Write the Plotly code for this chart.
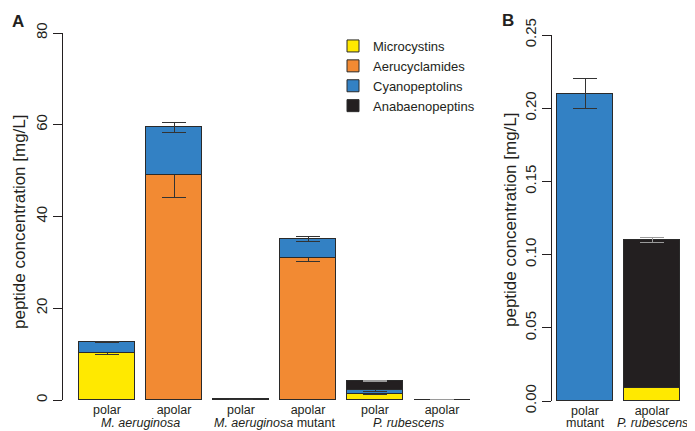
import plotly.graph_objects as go

W, H = 695, 431

# ---------------- data ----------------
series_names = ["Microcystins", "Aerucyclamides", "Cyanopeptolins", "Anabaenopeptins"]
series_colors = ["#FFE900", "#F28A33", "#3381C4", "#231F20"]
err_colors = ["#333333", "#333333", "#333333", "#9a9a9a"]

# Panel A
a_fraction = ["polar", "apolar", "polar", "apolar", "polar", "apolar"]
a_species = ["<i>M. aeruginosa</i>", "<i>M. aeruginosa</i> mutant", "<i>P. rubescens</i>"]
a_microcystins = [10.2, 0, 0, 0, 1.3, 0.009]
a_aerucyclamides = [0, 49.0, 0, 31.0, 0, 0]
a_cyanopeptolins = [2.4, 10.5, 0.21, 4.1, 0.9, 0]
a_anabaenopeptins = [0, 0, 0, 0, 1.9, 0.101]
a_microcystins_err = [0.3, None, None, None, 0.1, None]
a_aerucyclamides_err = [None, 4.8, None, 0.75, None, None]
a_cyanopeptolins_err = [0.15, 1.1, None, 0.5, 0.3, None]
a_anabaenopeptins_err = [None, None, None, None, 0.15, None]
a_yticks = [0, 20, 40, 60, 80]

# Panel B
b_fraction = ["polar", "apolar"]
b_second = ["mutant", "<i>P. rubescens</i>"]
b_microcystins = [0, 0.009]
b_aerucyclamides = [0, 0]
b_cyanopeptolins = [0.21, 0]
b_anabaenopeptins = [0, 0.101]
b_microcystins_err = [None, None]
b_aerucyclamides_err = [None, None]
b_cyanopeptolins_err = [0.01, None]
b_anabaenopeptins_err = [None, 0.002]
b_yticks = [0, 0.05, 0.10, 0.15, 0.20, 0.25]
b_yticklabels = ["0.00", "0.05", "0.10", "0.15", "0.20", "0.25"]

# ---------------- figure ----------------
FONT = "Liberation Sans, Arial, Helvetica, sans-serif"
fig = go.Figure()


def nz(vals):
    return [v if v else None for v in vals]


a_vals = [a_microcystins, a_aerucyclamides, a_cyanopeptolins, a_anabaenopeptins]
a_errs = [a_microcystins_err, a_aerucyclamides_err, a_cyanopeptolins_err, a_anabaenopeptins_err]
b_vals = [b_microcystins, b_aerucyclamides, b_cyanopeptolins, b_anabaenopeptins]
b_errs = [b_microcystins_err, b_aerucyclamides_err, b_cyanopeptolins_err, b_anabaenopeptins_err]

bar_w = 56 / 67
for i, name in enumerate(series_names):
    fig.add_trace(go.Bar(
        x=list(range(len(a_fraction))), y=nz(a_vals[i]), name=name,
        width=bar_w,
        marker=dict(color=series_colors[i], line=dict(color="#2a2a2a", width=1)),
        error_y=dict(type="data", array=a_errs[i], color=err_colors[i], thickness=1, width=12),
        xaxis="x", yaxis="y", showlegend=True,
    ))
for i, name in enumerate(series_names):
    fig.add_trace(go.Bar(
        x=list(range(len(b_fraction))), y=nz(b_vals[i]), name=name,
        width=bar_w,
        marker=dict(color=series_colors[i], line=dict(color="#2a2a2a", width=1)),
        error_y=dict(type="data", array=b_errs[i], color=err_colors[i], thickness=1, width=12),
        xaxis="x2", yaxis="y2", showlegend=False,
    ))

# The page body adds an 8px margin; target pixel positions are compensated.
OFF = 8


def px(x):
    return (x - OFF) / W


def py(y):
    return (H - (y - OFF)) / H


a_left, a_right, a_c0 = 63, 480, 107
b_left, b_right, b_c0 = 552, 690, 585
pitch = 67

XFS = 12.5

fig.update_layout(
    width=W, height=H,
    margin=dict(l=0, r=0, t=0, b=0),
    paper_bgcolor="white", plot_bgcolor="white",
    barmode="stack", bargap=0,
    font=dict(family=FONT, color="#231F20", size=13),
    legend=dict(
        x=px(333), y=py(31), xanchor="left", yanchor="top",
        traceorder="normal", font=dict(size=13),
        bgcolor="rgba(0,0,0,0)", itemwidth=30, tracegroupgap=0,
    ),
    xaxis=dict(
        domain=[px(a_left), px(a_right)],
        range=[(a_left - a_c0) / pitch, (a_right - a_c0) / pitch],
        tickvals=list(range(len(a_fraction))), ticktext=a_fraction,
        showline=False, showgrid=False, zeroline=False, ticks="",
        tickfont=dict(size=XFS), automargin=False, anchor="y",
    ),
    yaxis=dict(
        domain=[py(400), py(33)], range=[0, 80],
        tickvals=a_yticks, ticktext=[str(v) for v in a_yticks],
        tickangle=-90, tickfont=dict(size=15),
        showline=True, linecolor="#231F20", linewidth=1,
        ticks="outside", ticklen=9, tickcolor="#231F20",
        showgrid=False, zeroline=False, automargin=False, anchor="x",
    ),
    xaxis2=dict(
        domain=[px(b_left), px(b_right)],
        range=[(b_left - b_c0) / pitch, (b_right - b_c0) / pitch],
        tickvals=list(range(len(b_fraction))), ticktext=b_fraction,
        showline=False, showgrid=False, zeroline=False, ticks="",
        tickfont=dict(size=XFS), automargin=False, anchor="y2",
    ),
    yaxis2=dict(
        domain=[py(401), py(35)], range=[0, 0.25],
        tickvals=b_yticks, ticktext=b_yticklabels,
        tickangle=-90, tickfont=dict(size=15),
        showline=True, linecolor="#231F20", linewidth=1,
        ticks="outside", ticklen=9, tickcolor="#231F20",
        showgrid=False, zeroline=False, automargin=False, anchor="x2",
    ),
)

ann = []
# species labels panel A
for k, sp in enumerate(a_species):
    ann.append(dict(x=2 * k + 0.5, y=py(423), xref="x", yref="paper", text=sp,
                    showarrow=False, xanchor="center", yanchor="middle", font=dict(size=XFS)))
for k, sp in enumerate(b_second):
    ann.append(dict(x=k, y=py(423), xref="x2", yref="paper", text=sp,
                    showarrow=False, xanchor="center", yanchor="middle", font=dict(size=XFS)))
# axis titles
ann.append(dict(x=px(20), y=py(222), xref="paper", yref="paper",
                text="peptide concentration [mg/L]", textangle=-90, showarrow=False,
                xanchor="center", yanchor="middle", font=dict(size=17)))
ann.append(dict(x=px(510), y=py(220), xref="paper", yref="paper",
                text="peptide concentration [mg/L]", textangle=-90, showarrow=False,
                xanchor="center", yanchor="middle", font=dict(size=17)))
# panel letters
ann.append(dict(x=px(18), y=py(21), xref="paper", yref="paper", text="<b>A</b>",
                showarrow=False, xanchor="center", yanchor="middle", font=dict(size=17)))
ann.append(dict(x=px(508), y=py(20), xref="paper", yref="paper", text="<b>B</b>",
                showarrow=False, xanchor="center", yanchor="middle", font=dict(size=17)))
fig.update_layout(annotations=ann)

fig.write_html("out.html")
